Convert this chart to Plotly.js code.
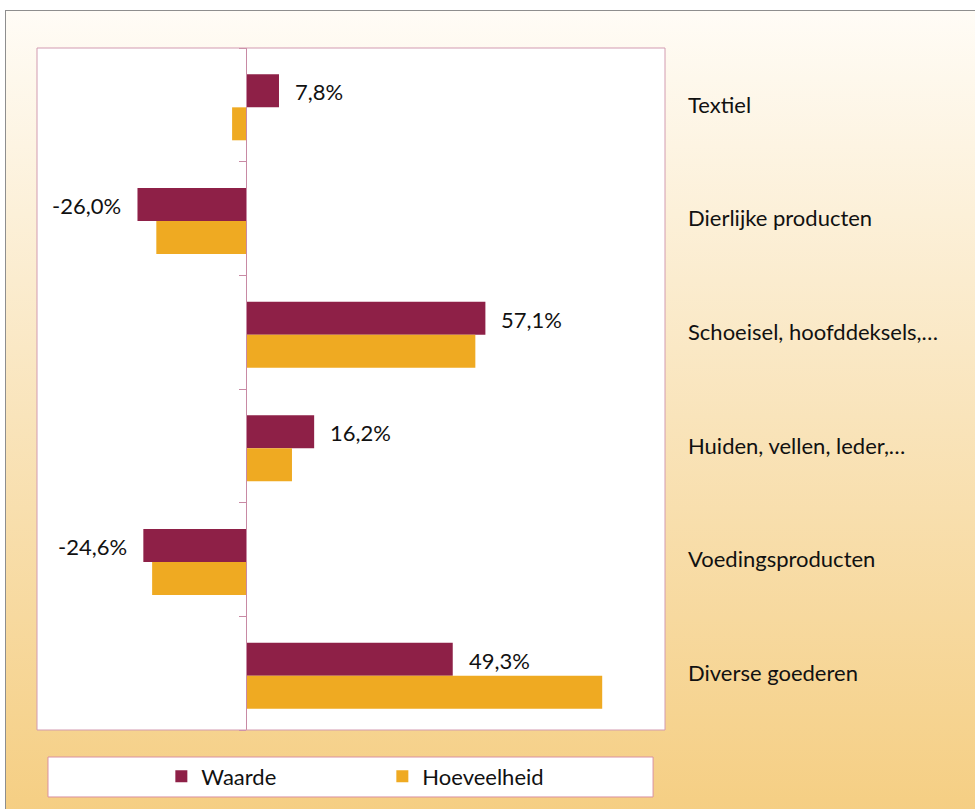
<!DOCTYPE html>
<html>
<head>
<meta charset="utf-8">
<script src="https://cdn.plot.ly/plotly-3.0.1.min.js"></script>
<style>
  html, body { margin: 0; padding: 0; background: #ffffff; width: 975px; height: 809px; overflow: hidden; }
  #bg { position: absolute; left: 5px; top: 10px; width: 975px; height: 809px;
        border-top: 1px solid #8e8e8e; border-left: 1px solid #8e8e8e;
        background: linear-gradient(to bottom, #fffcf6 0%, #f9e4bb 50%, #f5ce82 100%); }
  #chart { position: absolute; left: 0; top: 0; width: 975px; height: 809px; }
</style>
</head>
<body>
<div id="bg"></div>
<div id="chart"></div>
<script>
const categories = ["Textiel", "Dierlijke producten", "Schoeisel, hoofddeksels,…", "Huiden, vellen, leder,…", "Voedingsproducten", "Diverse goederen"];
const waarde = [7.8, -26.0, 57.1, 16.2, -24.6, 49.3];
const hoeveelheid = [-3.4, -21.5, 54.7, 10.9, -22.5, 85.0];
const seriesNames = ["Waarde", "Hoeveelheid"];

const fontFam = "Lato, 'Open Sans', sans-serif";
const fmt = v => v.toFixed(1).replace('.', ',') + '%';

const traces = [
  { type: 'bar', orientation: 'h', name: seriesNames[0], y: categories, x: waarde,
    width: 0.29, offset: -0.268,
    marker: { color: '#8e2047', line: { width: 0 } }, hoverinfo: 'skip' },
  { type: 'bar', orientation: 'h', name: seriesNames[1], y: categories, x: hoeveelheid,
    width: 0.29, offset: 0.022,
    marker: { color: '#efaa22', line: { width: 0 } }, hoverinfo: 'skip' },
  // invisible helper so the category-axis (crossing at zero) is drawn
  { type: 'scatter', mode: 'markers', x: [0], y: [0], yaxis: 'y2', showlegend: false,
    marker: { opacity: 0, size: 1 }, hoverinfo: 'skip' }
];

const annotations = waarde.map((v, i) => ({
  x: v, y: categories[i], xref: 'x', yref: 'y',
  text: fmt(v), showarrow: false,
  xanchor: v >= 0 ? 'left' : 'right',
  xshift: v >= 0 ? 14 : -14, yshift: 13,
  font: { family: fontFam, size: 22, color: '#111111' }
}));

const layout = {
  width: 975, height: 809,
  margin: { l: 37, r: 310, t: 48, b: 79 },
  paper_bgcolor: 'rgba(0,0,0,0)',
  plot_bgcolor: '#ffffff',
  barmode: 'group', bargap: 0.42, bargroupgap: 0,
  showlegend: true,
  xaxis: { range: [-50, 100], showticklabels: false, showgrid: false, zeroline: false, fixedrange: true },
  yaxis: { type: 'category', autorange: 'reversed', side: 'right', ticks: '', showgrid: false,
           showline: false, ticklabelstandoff: 22,
           tickfont: { family: fontFam, size: 22, color: '#111111' } },
  yaxis2: { overlaying: 'y', anchor: 'free', position: 1/3, side: 'left', range: [5.5, -0.5],
            tickmode: 'linear', tick0: -0.5, dtick: 1, ticks: 'outside', ticklen: 7, tickcolor: '#c88aa4',
            showticklabels: false, showgrid: false, zeroline: false, showline: true, linecolor: '#c88aa4', linewidth: 1 },
  legend: { orientation: 'h', x: 0.198, xanchor: 'left', y: -0.068, yanchor: 'middle',
            bgcolor: 'rgba(0,0,0,0)', entrywidth: 176, entrywidthmode: 'pixels',
            font: { family: fontFam, size: 22, color: '#111111' } },
  shapes: [
    { type: 'rect', xref: 'paper', yref: 'paper', x0: 0, x1: 1, y0: 0, y1: 1,
      line: { color: '#d29bb0', width: 1 }, layer: 'above' },
    { type: 'rect', xref: 'paper', yref: 'paper', x0: 0.0175, x1: 0.981, y0: -0.0396, y1: -0.0982,
      fillcolor: '#ffffff', line: { color: '#d990a0', width: 1 }, layer: 'below' }
  ],
  annotations: annotations
};

Plotly.newPlot('chart', traces, layout, { displayModeBar: false, staticPlot: true });
</script>
</body>
</html>
